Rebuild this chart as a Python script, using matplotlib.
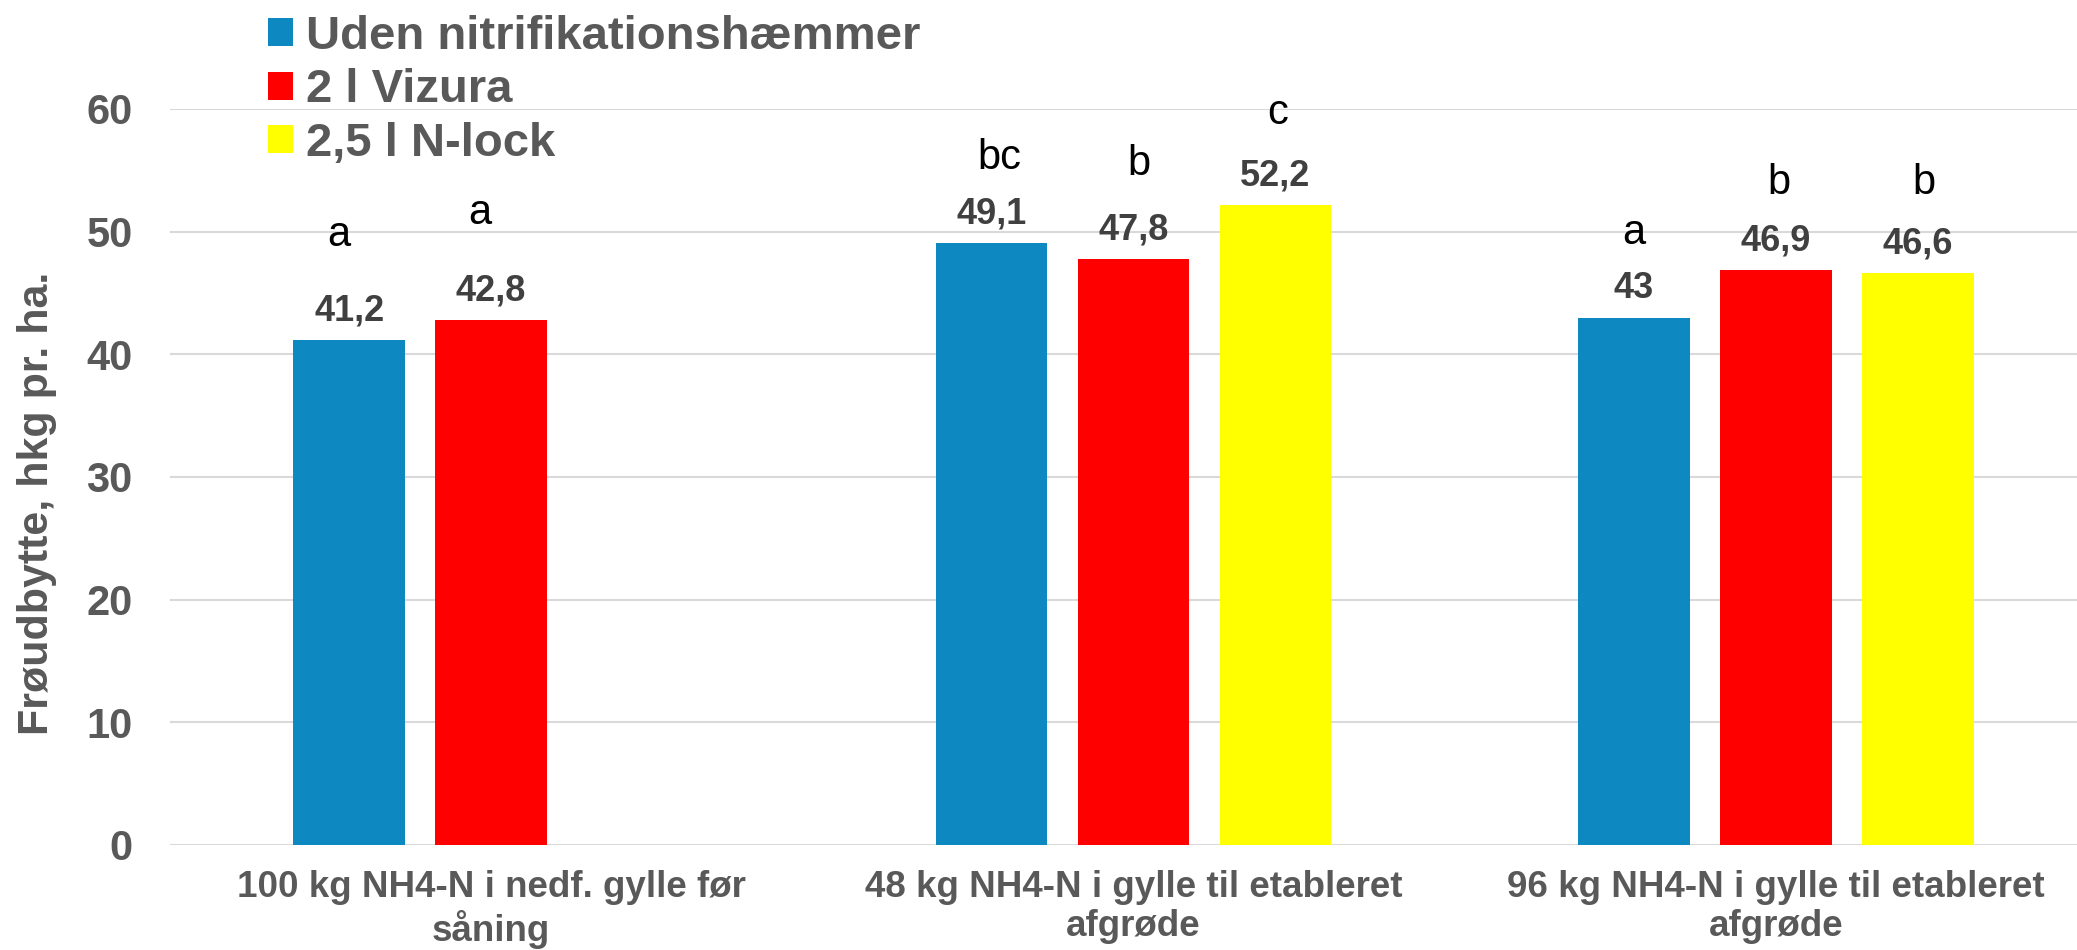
import numpy as np
from matplotlib import pyplot as plt

# === DATA ===
categories = ["100 kg NH4-N i nedf. gylle før\nsåning",
              "48 kg NH4-N i gylle til etableret\nafgrøde",
              "96 kg NH4-N i gylle til etableret\nafgrøde"]
series_names = ["Uden nitrifikationshæmmer", "2 l Vizura", "2,5 l N-lock"]
uden = [41.2, 49.1, 43.0]
vizura = [42.8, 47.8, 46.9]
nlock = [np.nan, 52.2, 46.6]
uden_letters = ["a", "bc", "a"]
vizura_letters = ["a", "b", "b"]
nlock_letters = ["", "c", "b"]

# === LAYOUT (letters were placed by hand in the original) ===
letter_y = [[48.8, 55.1, 49.0], [50.65, 54.6, 53.1], [np.nan, 58.8, 53.1]]
letter_dx = [[-10, 8, 0], [-11, 5, 3], [0, 2, 6]]   # pixels
colors = ["#0D88C1", "#FF0000", "#FFFF00"]
grey = "#595959"
W, H = 2077, 950

plt.rcParams['font.family'] = ['Liberation Sans', 'DejaVu Sans']

fig = plt.figure(figsize=(W / 100, H / 100), dpi=100)
ax = fig.add_axes([170 / W, 105 / H, 1927 / W, 736 / H])

x = np.arange(len(categories))
offsets = [-0.221, 0.0, 0.221]
width = 0.174

handles = []
for i, (vals, letters) in enumerate(zip([uden, vizura, nlock],
                                        [uden_letters, vizura_letters, nlock_letters])):
    vals = np.array(vals, dtype=float)
    ok = ~np.isnan(vals)
    bars = ax.bar(x[ok] + offsets[i], vals[ok], width, color=colors[i],
                  label=series_names[i], zorder=3)
    handles.append(bars)
    # value labels
    for xi, v in zip(x[ok] + offsets[i], vals[ok]):
        ax.annotate(f"{v:g}".replace(".", ","), (xi, v), xytext=(0, 14),
                    textcoords="offset points", ha="center", va="baseline",
                    fontsize=26, fontweight="bold", color="#404040")
    # significance letters
    for j in np.where(ok)[0]:
        ax.annotate(letters[j], (x[j] + offsets[i], letter_y[i][j]),
                    xytext=(letter_dx[i][j] * 0.72, 0), textcoords="offset points",
                    ha="center", va="baseline", fontsize=30, color="black")

ax.set_xlim(-0.5, 2.5)
ax.set_ylim(0, 60)
ax.set_yticks(range(0, 61, 10))
ax.set_xticks(x)
ax.set_xticklabels(categories, fontsize=26.5, fontweight="bold", color=grey,
                   linespacing=1.15)
ax.tick_params(axis="y", length=0, pad=27, labelsize=30, labelcolor=grey)
ax.tick_params(axis="x", length=0, pad=18)
for lab in ax.get_yticklabels():
    lab.set_fontweight("bold")
ax.grid(axis="y", color="#D9D9D9", linewidth=1.5, zorder=0)
for s in ax.spines.values():
    s.set_visible(False)

fig.text(37 / W, 1 - 503 / H, "Frøudbytte, hkg pr. ha.", rotation=90,
         ha="center", va="center", fontsize=31, fontweight="bold", color=grey)

leg = fig.legend(handles=handles, loc="upper left", bbox_to_anchor=(268 / W, 1 - 15 / H),
                 frameon=False, fontsize=34, borderpad=0, borderaxespad=0,
                 handlelength=0.53, handleheight=0.53, handletextpad=0.27,
                 labelspacing=0.2)
for t in leg.get_texts():
    t.set_color(grey)
    t.set_fontweight("bold")

fig.savefig("out.png", dpi=100)
